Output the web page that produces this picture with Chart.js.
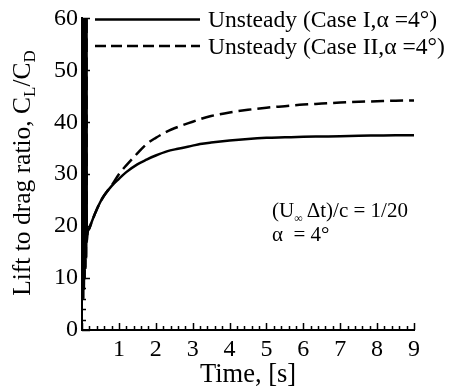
<!DOCTYPE html>
<html>
<head>
<meta charset="utf-8">
<script src="https://cdn.jsdelivr.net/npm/chart.js@4.4.1/dist/chart.umd.min.js"></script>
<style>
  html, body { margin: 0; padding: 0; background: #fff; }
  #wrap { width: 449px; height: 390px; position: relative; }
</style>
</head>
<body>
<div id="wrap"><canvas id="c" width="449" height="390"></canvas></div>
<script>
// ---- data ----
const time = [0.03, 0.04, 0.05, 0.06, 0.07, 0.08, 0.09, 0.10, 0.11, 0.12, 0.13, 0.15,
  0.2, 0.3, 0.4, 0.5, 0.6, 0.8, 1.0, 1.2, 1.5, 1.75, 2.0, 2.3, 2.6, 3.0, 3.2, 3.5,
  4.0, 4.5, 5.0, 5.5, 6.0, 6.5, 7.0, 7.5, 8.0, 8.5, 9.0];
const caseI = [6, 75, 8, 75, 10, 75, 12, 75, 14, 75, 17, 18.7,
  19.6, 21.5, 23.2, 24.7, 25.9, 27.7, 29.1, 30.4, 31.9, 32.8, 33.6, 34.4, 34.9, 35.5, 35.8, 36.1,
  36.5, 36.8, 37.0, 37.1, 37.2, 37.25, 37.3, 37.4, 37.45, 37.5, 37.5];
const caseII = [6, 75, 8, 75, 10, 75, 12, 75, 14, 75, 17, 18.7,
  19.6, 21.5, 23.2, 24.7, 25.9, 27.8, 30.0, 31.7, 34.0, 35.8, 37.0, 38.2, 39.1, 40.1, 40.6, 41.2,
  41.9, 42.4, 42.8, 43.1, 43.4, 43.6, 43.8, 43.95, 44.05, 44.15, 44.2];
const seriesNames = ['Unsteady (Case I,\u03B1 =4\u00B0)', 'Unsteady (Case II,\u03B1 =4\u00B0)'];
const xTicks = [1, 2, 3, 4, 5, 6, 7, 8, 9];
const yTicks = [0, 10, 20, 30, 40, 50, 60];

const SERIF = '"Liberation Serif", "Times New Roman", serif';

function pts(ys) { return time.map((t, i) => ({ x: t, y: ys[i] })); }

const decor = {
  id: 'decor',
  afterDatasetsDraw(chart) {
    const { ctx, chartArea: a, scales: { x, y } } = chart;
    ctx.save();
    ctx.strokeStyle = '#000';
    ctx.lineWidth = 1.5;
    ctx.beginPath();
    // x ticks inward
    for (let i = 0; i <= 45; i++) {
      const v = i * 0.2;
      const px = Math.round(x.getPixelForValue(v)) + 0.5;
      const len = (i % 5 === 0) ? 7 : 4;
      ctx.moveTo(px, a.bottom);
      ctx.lineTo(px, a.bottom - len);
    }
    // y ticks inward
    for (let v = 0; v <= 60; v += 2) {
      const py = Math.round(y.getPixelForValue(v)) + 0.5;
      const len = (v % 10 === 0) ? 8 : 4;
      ctx.moveTo(a.left, py);
      ctx.lineTo(a.left + len, py);
    }
    ctx.stroke();

    // legend
    ctx.lineWidth = 2.5;
    ctx.setLineDash([]);
    ctx.beginPath(); ctx.moveTo(95, 19.5); ctx.lineTo(200, 19.5); ctx.stroke();
    ctx.setLineDash([11, 5]);
    ctx.beginPath(); ctx.moveTo(95, 46); ctx.lineTo(200, 46); ctx.stroke();
    ctx.setLineDash([]);
    ctx.fillStyle = '#000';
    ctx.font = '23.6px ' + SERIF;
    ctx.textAlign = 'left';
    ctx.textBaseline = 'alphabetic';
    ctx.fillText(seriesNames[0], 208, 27);
    ctx.fillText(seriesNames[1], 208, 53.5);

    // annotation
    ctx.font = '21px ' + SERIF;
    let cx = 272;
    ctx.fillText('(U', cx, 216.5); cx += ctx.measureText('(U').width;
    ctx.font = '12px ' + SERIF;
    ctx.fillText('\u221E', cx, 222); cx += ctx.measureText('\u221E').width + 4;
    ctx.font = '21px ' + SERIF;
    ctx.fillText('\u0394t)/c = 1/20', cx, 216.5);
    ctx.fillText('\u03B1  = 4\u00B0', 272, 240.5);

    // x title
    ctx.font = '26.5px ' + SERIF;
    ctx.textAlign = 'center';
    ctx.fillText('Time, [s]', 248, 382);

    // y title, rotated, with subscripts
    ctx.translate(30, 173);
    ctx.rotate(-Math.PI / 2);
    const big = '25.5px ' + SERIF, small = '17px ' + SERIF;
    const parts = [['Lift to drag ratio, C', big, 0], ['L', small, 5], ['/C', big, 0], ['D', small, 5]];
    let total = 0;
    parts.forEach(p => { ctx.font = p[1]; total += ctx.measureText(p[0]).width; });
    let sx = -total / 2;
    ctx.textAlign = 'left';
    parts.forEach(p => { ctx.font = p[1]; ctx.fillText(p[0], sx, p[2]); sx += ctx.measureText(p[0]).width; });
    ctx.restore();
  }
};

new Chart(document.getElementById('c'), {
  type: 'line',
  data: {
    datasets: [
      { label: seriesNames[0], data: pts(caseI), borderColor: '#000', borderWidth: 2.5, pointRadius: 0, cubicInterpolationMode: 'monotone', fill: false },
      { label: seriesNames[1], data: pts(caseII), borderColor: '#000', borderWidth: 2.5, borderDash: [13, 6], pointRadius: 0, cubicInterpolationMode: 'monotone', fill: false }
    ]
  },
  options: {
    responsive: false,
    animation: false,
    events: [],
    layout: { padding: { top: 18, right: 35, left: 0, bottom: 0 } },
    plugins: { legend: { display: false }, tooltip: { enabled: false } },
    scales: {
      x: {
        type: 'linear', min: 0, max: 9,
        afterFit(s) { s.height = 60; },
        afterBuildTicks(s) { s.ticks = xTicks.map(v => ({ value: v })); },
        grid: { display: false, drawTicks: false },
        border: { display: true, color: '#000', width: 2 },
        ticks: { color: '#000', font: { family: SERIF, size: 24 }, padding: 5, maxRotation: 0, autoSkip: false }
      },
      y: {
        type: 'linear', min: 0, max: 60,
        afterFit(s) { s.width = 82; },
        afterBuildTicks(s) { s.ticks = yTicks.map(v => ({ value: v })); },
        grid: { display: false, drawTicks: false },
        border: { display: true, color: '#000', width: 2 },
        ticks: { color: '#000', font: { family: SERIF, size: 24 }, padding: 4, autoSkip: false }
      }
    }
  },
  plugins: [decor]
});
</script>
</body>
</html>
